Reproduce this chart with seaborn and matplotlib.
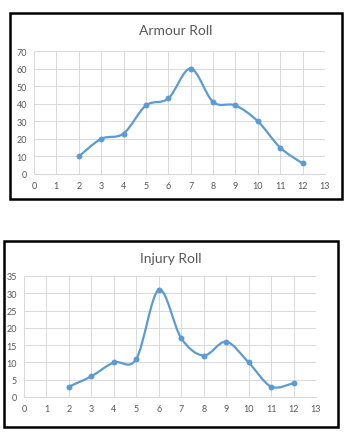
import matplotlib
matplotlib.use("Agg")
import matplotlib.pyplot as plt
import seaborn as sns
import numpy as np
import pandas as pd
from matplotlib.path import Path
from matplotlib.patches import PathPatch, Rectangle

# Data
rolls = [2, 3, 4, 5, 6, 7, 8, 9, 10, 11, 12]
armour_counts = [10, 20, 23, 39, 43, 60, 41, 39, 30, 15, 6]
injury_counts = [3, 6, 10, 11, 31, 17, 12, 16, 10, 3, 4]
x_ticks = list(range(0, 14))
armour_yticks = list(range(0, 71, 10))
injury_yticks = list(range(0, 36, 5))

LINE = "#5b9bd5"
GRID = "#d9d9d9"
TEXT = "#595959"
W, H = 357, 435

sns.set_style("white")
plt.rcParams["font.family"] = ["Lato", "DejaVu Sans"]


def smooth_path(xs, ys):
    # Excel-style smoothed line: cubic Bezier segments through each point
    pts = np.column_stack([xs, ys]).astype(float)
    ext = np.vstack([pts[0], pts, pts[-1]])
    verts = [tuple(pts[0])]
    codes = [Path.MOVETO]
    for i in range(1, len(ext) - 2):
        p0, p1, p2, p3 = ext[i - 1], ext[i], ext[i + 1], ext[i + 2]
        c1 = p1 + (p2 - p0) / 6.0
        c2 = p2 - (p3 - p1) / 6.0
        verts += [tuple(c1), tuple(c2), tuple(p2)]
        codes += [Path.CURVE4] * 3
    return Path(verts, codes)


def draw_chart(fig, box, area, title, title_y, counts, yticks):
    # border box in pixels: x0, y0, x1, y1 (from top-left)
    bx0, by0, bx1, by1 = box
    fig.patches.append(Rectangle((bx0 / W, 1 - by1 / H), (bx1 - bx0) / W, (by1 - by0) / H,
                                 transform=fig.transFigure, fill=False,
                                 edgecolor="black", linewidth=1.8, zorder=10))
    ax0, ay0, ax1, ay1 = area
    ax = fig.add_axes([ax0 / W, 1 - ay1 / H, (ax1 - ax0) / W, (ay1 - ay0) / H])
    df = pd.DataFrame({"roll": rolls, "count": counts})
    ax.add_patch(PathPatch(smooth_path(df["roll"], df["count"]), fill=False,
                           edgecolor=LINE, linewidth=1.6, zorder=3))
    sns.scatterplot(data=df, x="roll", y="count", ax=ax, color=LINE, s=18,
                    edgecolor=LINE, linewidth=0, zorder=4)
    ax.set_xlim(0, 13)
    ax.set_ylim(0, yticks[-1])
    ax.set_xticks(x_ticks)
    ax.set_yticks(yticks)
    ax.grid(True, color=GRID, linewidth=0.7)
    ax.set_axisbelow(True)
    for s in ["top", "right", "left"]:
        ax.spines[s].set_visible(False)
    ax.spines["bottom"].set_color(GRID)
    ax.tick_params(length=0, labelsize=6.5, labelcolor=TEXT, pad=5)
    ax.set_xlabel("")
    ax.set_ylabel("")
    fig.text((bx0 + bx1) / 2 / W, 1 - title_y / H, title, ha="center", va="center",
             fontsize=10, color=TEXT)


fig = plt.figure(figsize=(W / 100, H / 100), dpi=100)
draw_chart(fig, (10, 14, 342, 200), (34, 52, 325, 175), "Armour Roll", 31,
           armour_counts, armour_yticks)
draw_chart(fig, (4, 242, 338, 428), (24, 277, 316, 398), "Injury Roll", 259,
           injury_counts, injury_yticks)
fig.savefig("out.png", dpi=100)
